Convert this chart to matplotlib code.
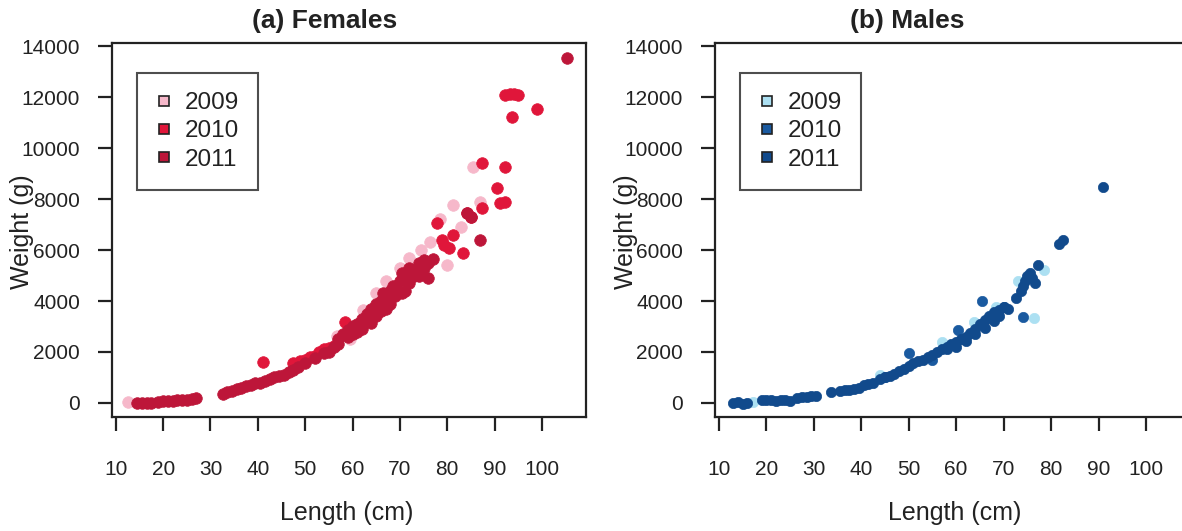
import matplotlib
matplotlib.use("Agg")
import matplotlib.pyplot as plt
from matplotlib.lines import Line2D

plt.rcParams['font.family'] = ['Liberation Sans', 'DejaVu Sans']

# ---- (a) Females: length (cm) / weight (g) ----
f09_len = [12.5, 56.7, 59.5, 62.2, 65.0, 67.0, 69.0, 70.0, 72.0, 74.5, 76.4, 78.5, 80.0, 81.2, 83.0, 85.4, 87.0]
f09_wt = [50, 2630, 2500, 3650, 4300, 4800, 4600, 5300, 5700, 6000, 6300, 7200, 5420, 7750, 6900, 9250, 7900]

f10_len = [41.0, 47.4, 49.0, 50.0, 51.0, 52.0, 53.0, 54.0, 55.0, 56.0, 58.4, 77.8, 78.9, 79.3, 80.4, 81.3,
           83.3, 84.2, 85.0, 87.3, 87.3, 90.5, 91.1, 92.2, 92.2, 93.7, 92.2, 93.2, 94.2, 95.0, 99.0]
f10_wt = [1600, 1560, 1650, 1700, 1800, 1850, 2000, 2100, 2150, 2250, 3180, 7050, 6400, 6200, 6080, 6580,
          5880, 7450, 7300, 9400, 7650, 8430, 7840, 9250, 7900, 11200, 12070, 12100, 12100, 12070, 11530]

f11_len = [14.5, 15.5, 16.5, 17.5, 19, 20, 21, 22, 23, 24, 25, 26, 27,
           32.6, 33.5, 34.5, 35.5, 36.5, 37.5, 38.5, 39.5, 40.5, 41.5, 42.5, 43.5, 44.5, 45.5, 46.5, 47.5,
           48.5, 50, 52, 54, 56, 57, 58, 59, 60, 61, 62, 63, 64, 64, 65, 66, 66.5, 67, 68, 68.5, 69,
           70, 70.5, 71, 72, 73, 74, 75, 76, 77, 76, 62, 60, 67, 71, 73,
           55, 57, 59, 61, 63, 65, 66, 68, 69, 70.5, 72, 74, 75,
           84.2, 85.0, 86.9, 105.3]
f11_wt = [0, 0, 10, 10, 50, 60, 80, 90, 100, 110, 130, 150, 180,
          350, 420, 480, 530, 580, 650, 700, 780, 800, 850, 950, 1000, 1050, 1100, 1200, 1300,
          1400, 1550, 1750, 1950, 2200, 2500, 2700, 2850, 3000, 3100, 3300, 3500, 3700, 3150, 3900, 4000,
          4300, 4150, 4400, 4600, 4500, 4800, 5100, 4900, 5300, 5200, 5500, 5600, 5500, 5650, 4900,
          2900, 2700, 3700, 4400, 5000,
          2000, 2300, 2600, 2800, 3200, 3400, 3600, 3900, 4200, 4300, 4700, 5000, 5300,
          7450, 7300, 6400, 13530]

# ---- (b) Males ----
m09_len = [17.2, 44.0, 57.0, 63.7, 68.3, 73.0, 76.4, 78.5]
m09_wt = [30, 1100, 2400, 3160, 3770, 4800, 3320, 5200]

m10_len = [45.0, 50.0, 55.0, 60.3, 65.5, 70.0, 74.0]
m10_wt = [1000, 1960, 1700, 2870, 4000, 3770, 3370]

m11_len = [13, 14, 15, 16, 19, 20, 21, 22, 23, 24, 25, 26.5, 27.5, 28.5, 29.5, 30.5, 33.7,
           35.6, 36.5, 37.5, 38.5, 39.5, 40.5, 41.5, 42.5, 44, 45, 46, 47, 48, 49, 50, 51, 52, 53,
           54, 55, 56, 57, 58, 59, 60, 61, 62, 63, 64, 65, 66, 67, 68, 69, 70, 72.5,
           58, 60, 62, 64, 66, 68, 69, 71,
           73.6, 74, 74.5, 75, 75.5, 76, 76.5, 77.2, 81.6, 82.5, 91]
m11_wt = [0, 30, -30, 0, 100, 100, 100, 80, 100, 100, 80, 200, 230, 250, 260, 270, 430,
          480, 500, 520, 540, 600, 700, 750, 800, 950, 1000, 1050, 1150, 1250, 1350, 1450, 1550, 1650, 1700,
          1800, 1900, 2000, 2100, 2200, 2300, 2400, 2500, 2600, 2750, 2900, 3100, 3250, 3400, 3550, 3650,
          3750, 4100,
          2100, 2200, 2450, 2700, 2950, 3200, 3400, 3700,
          4400, 4600, 4800, 5000, 5100, 4900, 4700, 5400, 6250, 6380, 8480]

years = ['2009', '2010', '2011']
fem_colors = ['#f6b8ca', '#e0163a', '#bd1639']
mal_colors = ['#ace0f2', '#1a5aa0', '#114a8c']

fig = plt.figure(figsize=(11.82, 5.31), dpi=100)
ax1 = fig.add_axes([112 / 1182, 114 / 531, 474 / 1182, 374 / 531])
ax2 = fig.add_axes([715 / 1182, 114 / 531, 470 / 1182, 374 / 531])


def draw(ax, data, colors, size, xmax):
    for (xs, ys), c in zip(data, colors):
        ax.scatter(xs, ys, s=size, color=c, edgecolors=c, linewidths=0.5, zorder=3)
    ax.set_xlim(9.2, xmax)
    ax.set_ylim(-550, 14120)
    ax.set_xticks(range(10, 101, 10))
    ax.set_yticks(range(0, 14001, 2000))
    for sp in ax.spines.values():
        sp.set_linewidth(1.6)
        sp.set_color('#222222')
    ax.tick_params(axis='both', direction='out', length=10, width=1.6, color='#222222',
                   labelsize=15, labelcolor='#222222')
    ax.tick_params(axis='y', pad=13)
    ax.tick_params(axis='x', pad=21)
    handles = [Line2D([], [], marker='s', linestyle='none', markersize=7,
                      markerfacecolor=c, markeredgecolor='#222222', markeredgewidth=1.2)
               for c in colors]
    leg = ax.legend(handles, years, loc='upper left', bbox_to_anchor=(0.053, 0.92),
                    borderaxespad=0, fontsize=17.5, frameon=True, fancybox=False,
                    handlelength=0.6, handletextpad=0.55, labelspacing=0.25, borderpad=0.8)
    leg.get_frame().set_edgecolor('#222222')
    leg.get_frame().set_linewidth(1.5)
    for t in leg.get_texts():
        t.set_color('#222222')


draw(ax1, [(f09_len, f09_wt), (f10_len, f10_wt), (f11_len, f11_wt)], fem_colors, 70, 109.3)
draw(ax2, [(m09_len, m09_wt), (m10_len, m10_wt), (m11_len, m11_wt)], mal_colors, 55, 108.2)
ax2.spines['right'].set_visible(False)

fig.text(325 / 1182, 1 - 21 / 531, '(a) Females', ha='center', va='center', fontsize=19,
         fontweight='bold', color='#222222')
fig.text(907 / 1182, 1 - 21 / 531, '(b) Males', ha='center', va='center', fontsize=19,
         fontweight='bold', color='#222222')
for xc in (347, 955):
    fig.text(xc / 1182, 1 - 513 / 531, 'Length (cm)', ha='center', va='center', fontsize=18,
             color='#222222')
for xc in (22, 626):
    fig.text(xc / 1182, 1 - 232 / 531, 'Weight (g)', ha='center', va='center', fontsize=18,
             rotation=90, color='#222222')

fig.savefig('out.png', dpi=100)
